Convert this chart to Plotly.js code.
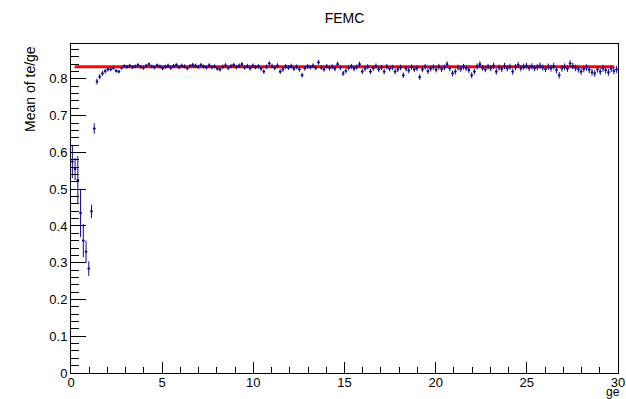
<!DOCTYPE html>
<html>
<head>
<meta charset="utf-8">
<script src="https://cdn.plot.ly/plotly-3.0.1.min.js"></script>
<style>html,body{margin:0;padding:0;background:#fff;}#chart{width:626px;height:399px;}</style>
</head>
<body>
<div id="chart"></div>
<script>
// Profile binning along "ge": 200 bins from 0 to 30
const binStart = 0.075;
const binWidth = 0.15;

// Low-ge region: bin means and errors (x = 0.075 ... 1.275)
const lowMeans = [0.575,0.555,0.525,0.435,0.36,0.33,0.284,0.44,0.665];
const lowErrs  = [0.045,0.03,0.065,0.065,0.045,0.03,0.02,0.018,0.014];

// Rise region (x = 1.425 ... 2.025)
const riseMeans = [0.793,0.806,0.815,0.821,0.826];
const riseErrs  = [0.008,0.007,0.007,0.006,0.006];

// Plateau region (x = 2.175 ... 29.925), rows of 10 bins (1.5 units of ge)
const flatMeans = [
 0.826,0.83,0.822,0.82,0.83,0.835,0.833,0.836,0.832,0.834,
 0.838,0.833,0.83,0.836,0.84,0.834,0.831,0.837,0.834,0.829,
 0.833,0.836,0.83,0.835,0.838,0.832,0.836,0.834,0.829,0.835,
 0.838,0.836,0.833,0.838,0.834,0.831,0.837,0.832,0.834,0.828,
 0.826,0.833,0.837,0.83,0.835,0.838,0.832,0.836,0.84,0.831,
 0.835,0.829,0.836,0.832,0.834,0.828,0.82,0.833,0.842,0.835,
 0.83,0.836,0.82,0.826,0.834,0.831,0.835,0.828,0.833,0.826,
 0.81,0.829,0.834,0.832,0.836,0.83,0.845,0.831,0.826,0.834,
 0.83,0.833,0.828,0.84,0.831,0.815,0.822,0.83,0.834,0.828,
 0.832,0.84,0.82,0.828,0.833,0.82,0.829,0.835,0.826,0.831,
 0.82,0.833,0.828,0.831,0.82,0.826,0.831,0.81,0.828,0.823,
 0.832,0.826,0.829,0.805,0.826,0.833,0.821,0.828,0.832,0.825,
 0.833,0.827,0.831,0.84,0.829,0.815,0.82,0.831,0.827,0.833,
 0.829,0.824,0.81,0.82,0.834,0.84,0.83,0.826,0.833,0.829,
 0.836,0.82,0.831,0.827,0.835,0.829,0.833,0.82,0.832,0.838,
 0.829,0.833,0.836,0.83,0.834,0.829,0.832,0.836,0.831,0.827,
 0.833,0.829,0.835,0.824,0.81,0.829,0.833,0.828,0.842,0.835,
 0.83,0.826,0.82,0.827,0.831,0.825,0.818,0.815,0.826,0.82,
 0.829,0.824,0.818,0.828,0.822,0.826
];
// Typical error on the plateau, one value per row of 10 bins
const flatRowErrs = [0.005,0.005,0.0055,0.0055,0.006,0.006,0.0065,0.0065,0.007,0.007,
                     0.0075,0.0075,0.008,0.008,0.0085,0.0085,0.009,0.009,0.0095];

// Constant fit
const fitValue = 0.833;
const fitRange = [0.2, 29.8];

// Tick labels
const xTickVals = [0,5,10,15,20,25,30];
const yTickVals = [0,0.1,0.2,0.3,0.4,0.5,0.6,0.7,0.8];
const yTickText = ['0','0.1','0.2','0.3','0.4','0.5','0.6','0.7','0.8'];

const means = lowMeans.concat(riseMeans, flatMeans);
const errs = lowErrs.concat(riseErrs, flatMeans.map((v, i) => flatRowErrs[Math.floor(i / 10)]));
const xs = means.map((v, i) => +(binStart + i * binWidth).toFixed(3));

const blue = '#0a0a8f';
const font = 'Liberation Sans, Arial, Helvetica, sans-serif';

const profile = {
  type: 'scatter', mode: 'markers', x: xs, y: means,
  marker: {color: blue, size: 2, symbol: 'square'},
  error_x: {type: 'constant', value: binWidth / 2, color: blue, thickness: 1, width: 0},
  error_y: {type: 'data', array: errs, visible: true, color: blue, thickness: 1, width: 0},
  hoverinfo: 'x+y', showlegend: false
};
const fit = {
  type: 'scatter', mode: 'lines', x: fitRange, y: [fitValue, fitValue],
  line: {color: '#ff0000', width: 3}, showlegend: false, hoverinfo: 'skip'
};

const layout = {
  width: 626, height: 399,
  margin: {l: 71, r: 8, t: 44, b: 26},
  paper_bgcolor: '#ffffff', plot_bgcolor: '#ffffff',
  font: {family: font, color: '#000', size: 12},
  title: {text: 'FEMC', font: {family: font, size: 14, color: '#000'}, x: 0.5, xref: 'paper', y: 0.955, yref: 'container', xanchor: 'center', yanchor: 'middle'},
  xaxis: {
    range: [0, 30], showgrid: false, zeroline: false,
    showline: true, linecolor: '#000', linewidth: 1, mirror: true,
    ticks: 'inside', ticklen: 11, tickwidth: 1, tickcolor: '#000',
    ticklabelstandoff: -3,
    tickvals: xTickVals, ticktext: xTickVals.map(String),
    tickfont: {family: font, size: 13, color: '#000'},
    minor: {ticks: 'inside', ticklen: 6, dtick: 1, tick0: 0, tickcolor: '#000', showgrid: false}
  },
  yaxis: {
    range: [0, 0.895], showgrid: false, zeroline: false,
    showline: true, linecolor: '#000', linewidth: 1, mirror: true,
    ticks: 'inside', ticklen: 15, tickwidth: 1, tickcolor: '#000',
    tickvals: yTickVals, ticktext: yTickText,
    tickfont: {family: font, size: 13, color: '#000'},
    minor: {ticks: 'inside', ticklen: 8, dtick: 0.02, tick0: 0, tickcolor: '#000', showgrid: false}
  },
  annotations: [
    {text: 'Mean of te/ge', xref: 'paper', yref: 'paper', x: -0.075, y: 1, xanchor: 'center', yanchor: 'top',
     textangle: -90, showarrow: false, font: {family: font, size: 14, color: '#000'}},
    {text: 'ge', xref: 'paper', yref: 'paper', x: 1.005, y: -0.081, xanchor: 'right', yanchor: 'bottom',
     showarrow: false, borderpad: 0, font: {family: font, size: 12, color: '#000'}}
  ]
};

Plotly.newPlot('chart', [fit, profile], layout, {displayModeBar: false, staticPlot: true});
</script>
</body>
</html>
